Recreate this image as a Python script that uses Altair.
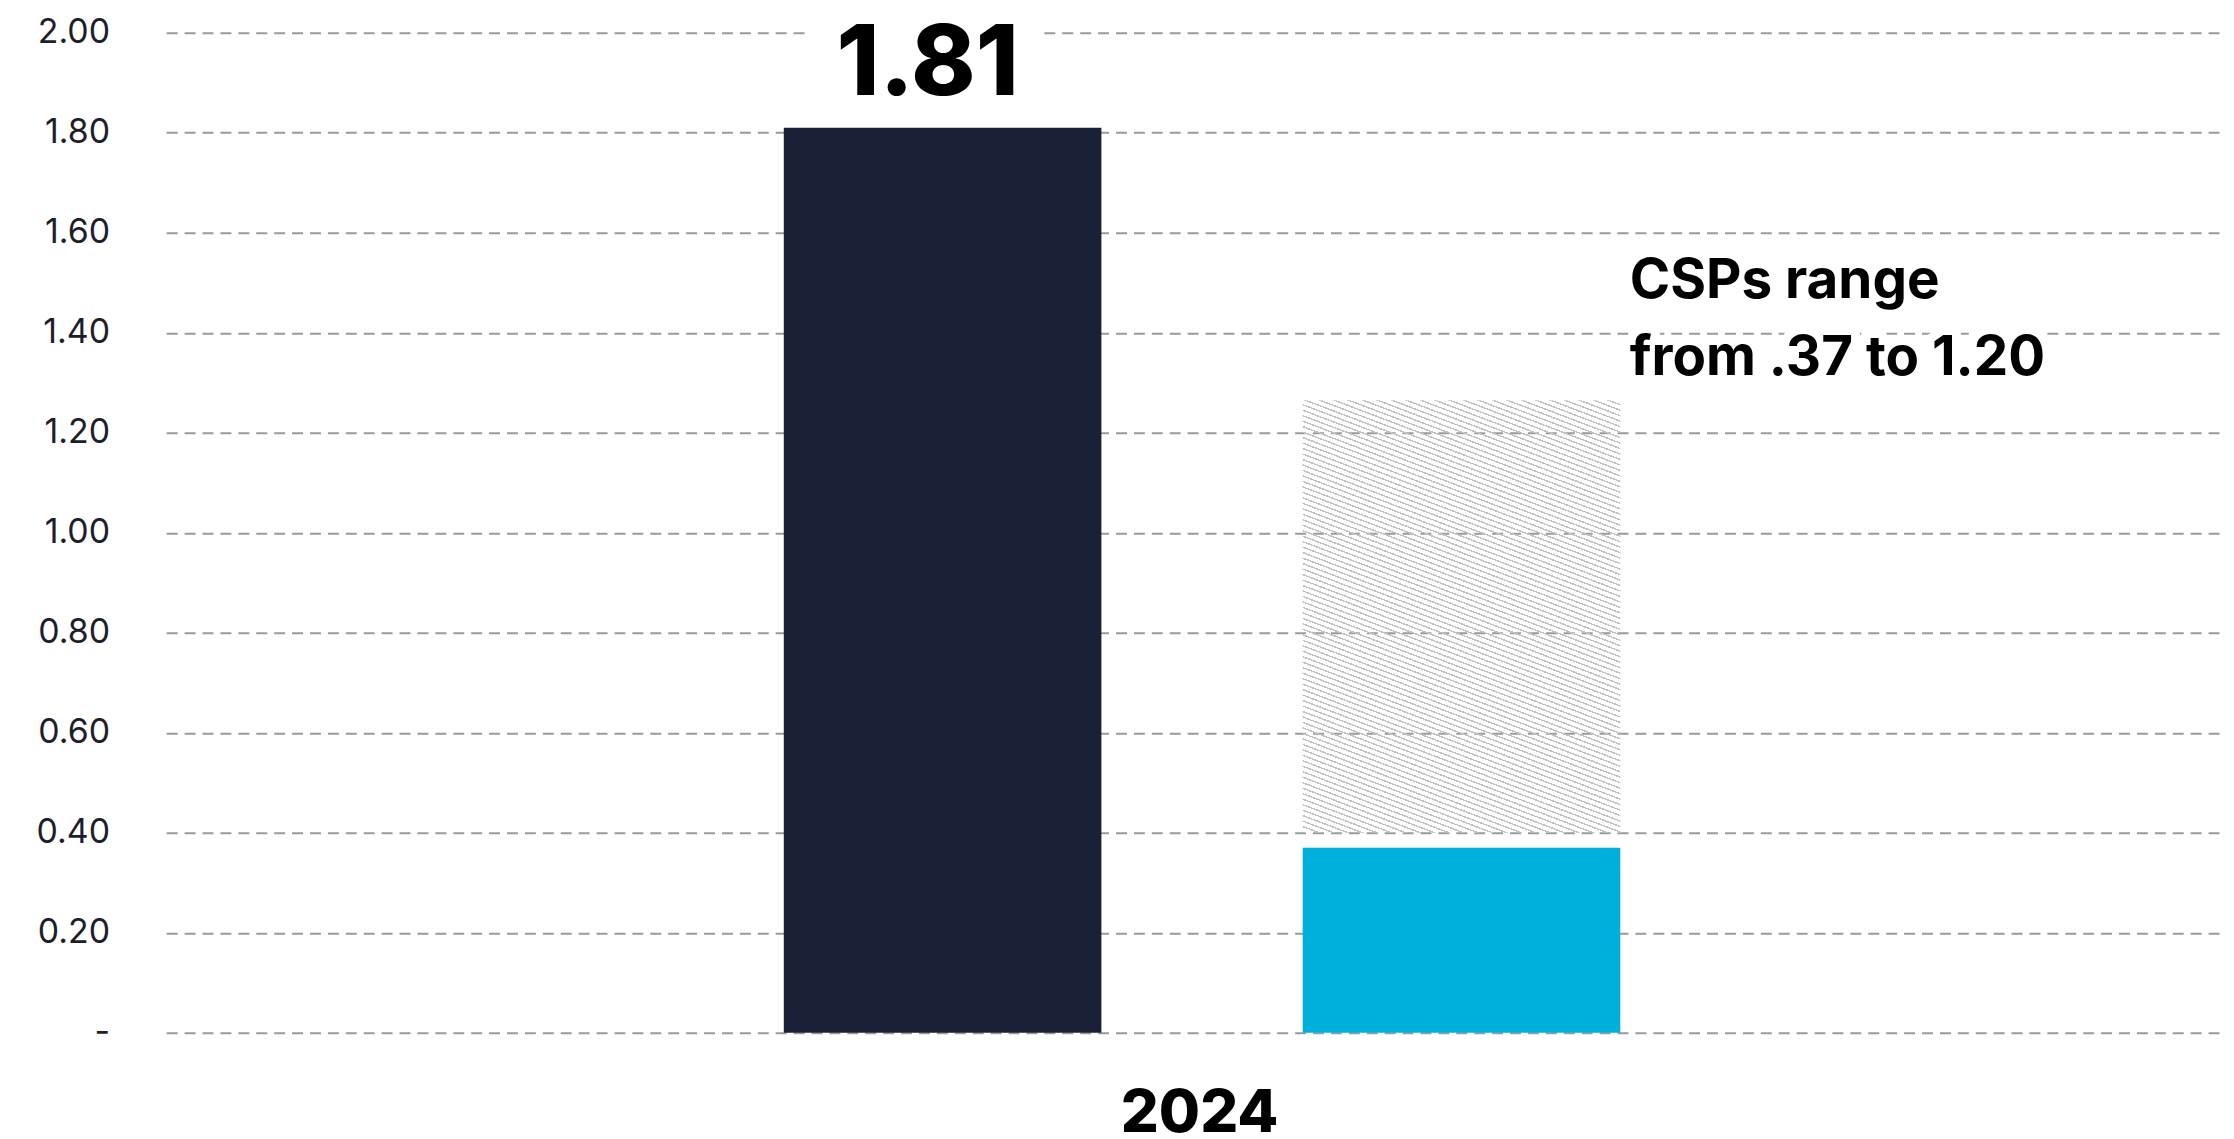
import altair as alt
import pandas as pd

# ---- data ----
series = ["Reported", "CSPs low"]
values = [1.81, 0.37]
range_low = 0.40
range_high = 1.265
label_text = ["1.81"]
note_lines = ["CSPs range", "from .37 to 1.20"]
year = "2024"
y_ticks = [0.0, 0.2, 0.4, 0.6, 0.8, 1.0, 1.2, 1.4, 1.6, 1.8, 2.0]

# ---- styles ----
DARK = "#1b2039"
CYAN = "#00b0dc"
FONT = "Inter"
x_domain = ["_l"] + series + ["_r"]  # empty slots either side of the pair

bars_df = pd.DataFrame({"series": series, "value": values})
label_df = pd.DataFrame({"series": [series[0]], "value": [values[0]], "txt": label_text})
range_df = pd.DataFrame({"series": [series[1]], "low": [range_low], "high": [range_high]})
note_df = pd.DataFrame({"series": [series[1]], "value": [range_high], "txt": [note_lines]})

# hatch pattern built as a striped linear gradient (style only)
N = 101
frac = 0.28
stops = []
for i in range(N):
    a0 = i / N
    a1 = (i + frac) / N
    a2 = (i + 1) / N
    stops += [
        alt.GradientStop(offset=a0, color="#c2c2c2"),
        alt.GradientStop(offset=a1, color="#c2c2c2"),
        alt.GradientStop(offset=a1, color="rgba(255,255,255,0)"),
        alt.GradientStop(offset=a2, color="rgba(255,255,255,0)"),
    ]
hatch = alt.LinearGradient(gradient="linear", stops=stops, x1=0, y1=1, x2=0.331, y2=-0.187)

x_scale = alt.Scale(domain=x_domain, paddingInner=0.388, paddingOuter=0.1787, align=0.532)

x_enc = alt.X(
    "series:N",
    scale=x_scale,
    axis=alt.Axis(
        labels=False, ticks=False, domain=False, grid=False,
        title=year, titleFont=FONT, titleFontSize=60, titleFontWeight=800,
        titleColor="#000000", titleBaseline="alphabetic", titleY=99, titleX=1038,
    ),
)
x_plain = alt.X("series:N", scale=x_scale)

y_scale = alt.Scale(domain=[0, 2], nice=False)
y_axis = alt.Axis(
    values=y_ticks,
    labelExpr="datum.value == 0 ? '-' : format(datum.value, '.2f')",
    domain=False, ticks=False,
    grid=True, gridColor="#9a9a9a", gridWidth=2, gridDash=[11, 7],
    labelFont=FONT, labelFontSize=34, labelFontWeight=400, labelColor="#1e1e2a", labelPadding=57,
    title=None,
)

bars = alt.Chart(bars_df).mark_bar().encode(
    x=x_enc,
    y=alt.Y("value:Q", scale=y_scale, axis=y_axis),
    color=alt.Color("series:N", scale=alt.Scale(domain=series, range=[DARK, CYAN]), legend=None),
)

hatch_bar = alt.Chart(range_df).mark_bar(fill=hatch).encode(
    x=x_plain,
    y=alt.Y("low:Q", scale=y_scale),
    y2="high:Q",
)

label_bg = alt.Chart(label_df).mark_text(
    font=FONT, fontSize=98, fontWeight=800, color="white",
    stroke="white", strokeWidth=60, strokeJoin="round",
    baseline="alphabetic", dx=-15, dy=-33,
).encode(x=x_plain, y=alt.Y("value:Q", scale=y_scale), text="txt:N")

label = alt.Chart(label_df).mark_text(
    font=FONT, fontSize=98, fontWeight=800, color="#000000",
    baseline="alphabetic", dx=-15, dy=-33,
).encode(x=x_plain, y=alt.Y("value:Q", scale=y_scale), text="txt:N")

note_bg = alt.Chart(note_df).mark_text(
    font=FONT, fontSize=55, fontWeight="bold", color="white",
    stroke="white", strokeWidth=18, strokeJoin="round",
    align="left", baseline="alphabetic", dx=169, dy=-103, lineHeight=78,
).encode(x=x_plain, y=alt.Y("value:Q", scale=y_scale), text="txt")

note = alt.Chart(note_df).mark_text(
    font=FONT, fontSize=55, fontWeight="bold", color="#000000",
    align="left", baseline="alphabetic", dx=169, dy=-103, lineHeight=78,
).encode(x=x_plain, y=alt.Y("value:Q", scale=y_scale), text="txt")

chart = alt.layer(label_bg, bars, hatch_bar, label, note_bg, note).properties(
    width=2070,
    height=1005,
    autosize=alt.AutoSizeParams(type="none"),
    padding={"left": 159, "top": 22, "right": 0, "bottom": 120},
).configure(background="white", view=alt.ViewConfig(stroke=None))

chart.save("out.html", embed_options={"renderer": "svg", "actions": False})
